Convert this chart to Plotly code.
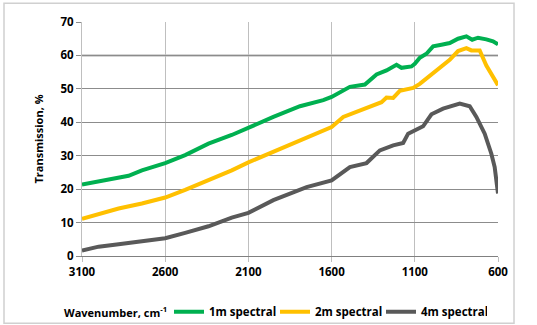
import plotly.graph_objects as go

# Wavenumber (cm-1) and transmission (%)
wn_1m = [3100, 3000, 2950, 2880, 2820, 2740, 2600, 2480, 2340, 2200, 2100, 1950, 1790, 1700,
         1650, 1600, 1550, 1490, 1400, 1330, 1270, 1210, 1180, 1120, 1100, 1070, 1030, 990,
         940, 890, 840, 790, 755, 720, 670, 630, 600]
t_1m = [21.4, 22.3, 22.8, 23.2, 24.0, 25.6, 27.8, 30.2, 33.6, 36.2, 38.4, 41.6, 44.8, 46.0,
        46.6, 47.6, 49.0, 50.6, 51.3, 54.3, 55.5, 57.2, 56.3, 56.7, 57.5, 59.3, 60.5, 62.7,
        63.2, 63.7, 65.0, 65.7, 64.7, 65.3, 64.8, 64.2, 63.3]

wn_2m = [3100, 3000, 2880, 2740, 2600, 2480, 2340, 2200, 2100, 1950, 1800, 1600, 1530, 1390,
         1300, 1270, 1230, 1190, 1110, 1070, 1000, 890, 840, 790, 760, 710, 670, 640, 600]
t_2m = [11.1, 12.5, 14.2, 15.7, 17.5, 19.8, 22.6, 25.6, 28.0, 31.1, 34.5, 38.6, 41.6, 44.1,
        46.0, 47.4, 47.3, 49.4, 50.3, 51.5, 54.2, 58.7, 61.3, 62.2, 61.5, 61.5, 57.0, 54.6, 51.1]

wn_4m = [3100, 3000, 2880, 2740, 2600, 2480, 2340, 2200, 2100, 1950, 1750, 1600, 1490, 1390,
         1310, 1230, 1170, 1140, 1070, 1050, 1000, 930, 830, 770, 730, 680, 640, 620, 600]
t_4m = [1.6, 2.8, 3.5, 4.3, 5.3, 6.9, 8.9, 11.5, 12.9, 16.7, 20.6, 22.6, 26.6, 27.8,
        31.6, 33.1, 33.8, 36.6, 38.1, 38.8, 42.4, 44.1, 45.6, 44.8, 41.6, 36.6, 30.6, 26.6, 18.7]

series_names = ["1m spectral", "2m spectral", "4m spectral"]
series_colors = ["#00B050", "#FFC000", "#595959"]
x_ticks = [3100, 2600, 2100, 1600, 1100, 600]

FONT = "Open Sans"

fig = go.Figure()
for name, xs, ys, c in zip(series_names, [wn_1m, wn_2m, wn_4m], [t_1m, t_2m, t_4m], series_colors):
    fig.add_trace(go.Scatter(x=xs, y=ys, mode="lines", name=name,
                             line=dict(color=c, width=4)))

# darker 60% reference line
fig.add_shape(type="line", xref="x", yref="y", x0=3100, x1=600, y0=60, y1=60,
              line=dict(color="#595959", width=1.5), layer="below")
# outer chart border
fig.add_shape(type="rect", xref="paper", yref="paper", x0=-0.1875, x1=1.0385, y0=-0.2876, y1=1.08,
              line=dict(color="#d0d0d0", width=1.5))

fig.add_annotation(text="<b>Wavenumber, cm<sup>-1</sup></b>", xref="paper", yref="paper",
                   x=(62 - 82) / 416, y=(255.7 - 311.5) / 234, xanchor="left", yanchor="middle",
                   showarrow=False, font=dict(family=FONT, size=11, color="#000000"))

fig.update_layout(
    width=537, height=325,
    margin=dict(l=82, r=39, t=22, b=69, autoexpand=False),
    paper_bgcolor="white", plot_bgcolor="white",
    font=dict(family=FONT, size=12, color="#000000"),
    showlegend=True,
    legend=dict(orientation="h", x=(169 - 82) / 416, y=(255.7 - 311.5) / 234,
                xanchor="left", yanchor="middle", font=dict(family=FONT, size=11.5, color="#000000", weight="bold"),
                itemwidth=30, bgcolor="rgba(0,0,0,0)", tracegroupgap=0,
                entrywidth=61, entrywidthmode="pixels"),
    xaxis=dict(range=[3100, 600], tickvals=x_ticks, ticktext=[str(v) for v in x_ticks],
               showgrid=True, gridcolor="#bfbfbf", gridwidth=1,
               showline=True, linecolor="#808080", linewidth=1,
               ticks="outside", ticklen=5, tickcolor="#bfbfbf",
               tickfont=dict(family=FONT, size=11.5, weight="bold"), zeroline=False),
    yaxis=dict(range=[0, 70], dtick=10, showgrid=True, gridcolor="#8c8c8c", gridwidth=1,
               showline=True, linecolor="#bfbfbf", linewidth=1,
               ticks="outside", ticklen=5, tickcolor="#8c8c8c",
               tickfont=dict(family=FONT, size=11.5, weight="bold"), zeroline=False,
               title=dict(text="<b>Transmission, %</b>", standoff=14,
                          font=dict(family=FONT, size=11))),
)

fig.write_html("out.html")
